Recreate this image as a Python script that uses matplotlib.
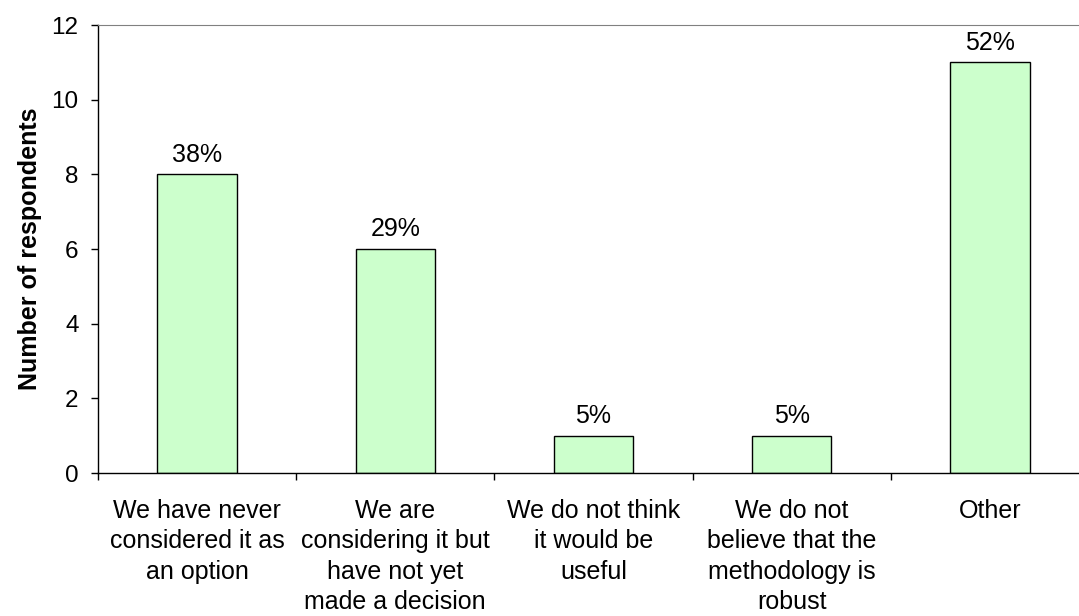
import matplotlib.pyplot as plt
import numpy as np

plt.rcParams['font.family'] = ['Liberation Sans', 'DejaVu Sans']

# Reasons given by respondents
raisons = [
    "We have never\nconsidered it as\nan option",
    "We are\nconsidering it but\nhave not yet\nmade a decision",
    "We do not think\nit would be\nuseful",
    "We do not\nbelieve that the\nmethodology is\nrobust",
    "Other",
]
nb_repondants = [8, 6, 1, 1, 11]
pourcentages = ["38%", "29%", "5%", "5%", "52%"]

fig = plt.figure(figsize=(10.79, 6.16), dpi=100)
ax = fig.add_axes([98 / 1079, 143 / 616, 991 / 1079, 448 / 616])

x = np.arange(len(raisons))
barres = ax.bar(x, nb_repondants, width=0.40, color="#CCFFCC",
                edgecolor="black", linewidth=1.0, zorder=2)

for b, txt in zip(barres, pourcentages):
    ax.annotate(txt, (b.get_x() + b.get_width() / 2, b.get_height()),
                xytext=(0, 5.5), textcoords="offset points",
                ha="center", va="bottom", fontsize=18)

ax.set_xlim(-0.5, len(raisons) - 0.5)
ax.set_ylim(0, 12)
ax.set_yticks(range(0, 13, 2))
ax.tick_params(axis="y", labelsize=17.5, direction="out", length=5, width=1, pad=9)

# ticks between categories, labels centred under bars
ax.set_xticks(np.arange(-0.5, len(raisons), 1.0))
ax.set_xticklabels([])
ax.set_xticks(x, minor=True)
ax.set_xticklabels(raisons, minor=True, fontsize=18, linespacing=1.32)
ax.tick_params(axis="x", which="major", direction="out", length=5, width=1)
ax.tick_params(axis="x", which="minor", length=0, pad=19)

ax.set_ylabel("Number of respondents", fontsize=18, fontweight="bold", labelpad=7)

ax.spines["right"].set_visible(False)
ax.spines["top"].set_color("#808080")
ax.spines["left"].set_linewidth(1)
ax.spines["bottom"].set_linewidth(1)

fig.savefig("out.png", dpi=100)
